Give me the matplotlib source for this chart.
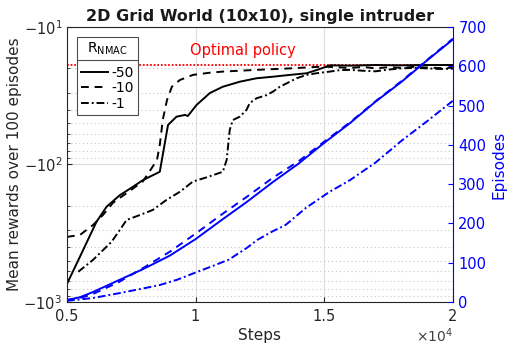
import matplotlib
matplotlib.use("Agg")
import matplotlib.pyplot as plt
from matplotlib.ticker import FixedLocator, FixedFormatter, NullFormatter, LogLocator
from matplotlib.lines import Line2D

# ---------------- data (steps in units of 10^4) ----------------
x_r50 = [0.5, 0.55, 0.615, 0.654, 0.706, 0.75, 0.795, 0.861, 0.893, 0.926, 0.959, 0.97,
         1.004, 1.056, 1.106, 1.172, 1.237, 1.30, 1.367, 1.432, 1.48, 1.522, 1.6, 1.7,
         1.8, 1.9, 2.0]
r_r50 = [740, 471, 261, 203, 167, 148, 130, 113, 51.6, 44.9, 43.6, 44.4,
         36.9, 30.2, 27.2, 25.0, 23.6, 23.0, 22.3, 21.7, 20.3, 19.0, 19.1, 18.9,
         19.0, 18.9, 18.9]

x_r10 = [0.5, 0.55, 0.601, 0.64, 0.679, 0.733, 0.795, 0.85, 0.861, 0.873, 0.889, 0.908,
         0.939, 0.99, 1.056, 1.106, 1.237, 1.367, 1.495, 1.55, 1.6, 1.65, 1.7, 1.75,
         1.8, 1.85, 1.9, 1.95, 2.0]
r_r10 = [336, 326, 276, 233, 190, 161, 133, 93, 72, 47, 34, 27.2,
         24.3, 22.3, 21.5, 21.1, 20.5, 20.0, 19.4, 19.6, 19.9, 19.5, 20.0, 19.6,
         19.8, 19.5, 19.7, 19.9, 19.8]

x_r1 = [0.544, 0.601, 0.674, 0.706, 0.732, 0.784, 0.834, 0.887, 0.939, 0.99, 1.043,
        1.106, 1.121, 1.133, 1.145, 1.172, 1.198, 1.211, 1.237, 1.276, 1.30, 1.328,
        1.354, 1.393, 1.432, 1.47, 1.522, 1.56, 1.6, 1.65, 1.7, 1.75, 1.8, 1.85,
        1.9, 1.95, 2.0]
r_r1 = [603, 495, 364, 299, 253, 233, 214, 181, 158, 133, 124,
        113, 92.7, 56, 47.5, 44.9, 40.1, 35.7, 33.0, 31.3, 29.6, 27.2,
        25.7, 23.6, 22.3, 21.7, 21.1, 20.6, 20.5, 20.8, 21.0, 20.4, 20.0, 19.8,
        20.0, 20.2, 20.1]

x_ep = [0.5, 0.55, 0.6, 0.7, 0.8, 0.9, 1.0, 1.1, 1.2, 1.3, 1.4, 1.5, 1.6, 1.7, 1.8, 1.9, 2.0]
ep_r50 = [5, 12, 25, 55, 85, 118, 160, 208, 255, 305, 352, 405, 455, 510, 560, 615, 668]
ep_r10 = [5, 10, 20, 50, 88, 128, 174, 222, 268, 316, 358, 408, 457, 511, 562, 616, 670]

x_ep1 = [0.5, 0.6, 0.7, 0.8, 0.86, 0.93, 1.0, 1.06, 1.13, 1.2, 1.24, 1.3, 1.35, 1.43,
         1.52, 1.6, 1.7, 1.8, 1.9, 2.0]
ep_r1 = [3, 10, 22, 35, 43, 57, 75, 90, 108, 138, 158, 180, 196, 240,
         280, 310, 355, 410, 460, 512]

optimal_reward = 18.75
legend_labels = ["-50", "-10", "-1"]

# ---------------- figure ----------------
fig = plt.figure(figsize=(5.07, 3.47), dpi=100)
ax = fig.add_axes([0.132, 0.1297, 0.761, 0.7925])
ax2 = ax.twinx()

blue = (0, 0, 1)
dark = "#262626"

ax.set_yscale("log")
ax.set_xlim(0.5, 2.0)
ax.set_ylim(1000, 10)

ax.grid(which="major", color="#dcdcdc", lw=0.8)
ax.yaxis.set_minor_locator(LogLocator(base=10, subs=range(2, 10)))
ax.grid(which="minor", axis="y", color="#c8c8c8", lw=0.8, ls=(0, (1, 2.5)))
ax.set_axisbelow(True)

ax.axhline(optimal_reward, color="red", lw=1.3, ls=(0, (1, 1)), zorder=2)
ax.text(1.184, 14.8, "Optimal policy", color="red", fontsize=10.5, ha="center", va="center")

l1, = ax.plot(x_r50, r_r50, color="black", lw=1.4, ls="-")
l2, = ax.plot(x_r10, r_r10, color="black", lw=1.4, ls=(0, (4, 3)))
l3, = ax.plot(x_r1, r_r1, color="black", lw=1.4, ls=(0, (4, 1.5, 1, 1.5)))

ax2.plot(x_ep, ep_r50, color=blue, lw=1.4, ls="-")
ax2.plot(x_ep, ep_r10, color=blue, lw=1.4, ls=(0, (4, 3)))
ax2.plot(x_ep1, ep_r1, color=blue, lw=1.4, ls=(0, (4, 1.5, 1, 1.5)))
ax2.set_ylim(0, 700)
ax2.set_yticks(range(0, 701, 100))

# ticks
ax.set_xticks([0.5, 1.0, 1.5, 2.0])
ax.set_xticklabels(["0.5", "1", "1.5", "2"])
ax.yaxis.set_major_locator(FixedLocator([10, 100, 1000]))
ax.yaxis.set_major_formatter(FixedFormatter([r"$-10^{1}$", r"$-10^{2}$", r"$-10^{3}$"]))
ax.yaxis.set_minor_formatter(NullFormatter())
ax.tick_params(axis="both", which="both", direction="in", labelsize=10.5, colors=dark)
ax.tick_params(axis="x", pad=5)
ax.tick_params(axis="y", which="minor", length=2)
ax2.tick_params(axis="y", direction="in", labelsize=10.5, colors=blue, pad=4)

for s in ["left", "bottom", "top"]:
    ax.spines[s].set_color(dark)
    ax2.spines[s].set_visible(False)
ax.spines["right"].set_visible(False)
ax2.spines["right"].set_color(blue)

ax.set_title("2D Grid World (10x10), single intruder", fontsize=11.5, fontweight="bold",
             color="#1a1a1a", pad=4)
ax.set_xlabel("Steps", fontsize=11, color=dark, labelpad=3)
ax.set_ylabel("Mean rewards over 100 episodes", fontsize=11, color=dark, labelpad=1)
ax2.set_ylabel("Episodes", fontsize=11, color=blue, labelpad=4)

fig.text(0.893, 0.013, r"$\times10^{4}$", ha="right", va="baseline", fontsize=10, color="#404040")

leg = ax.legend([l1, l2, l3], legend_labels, title=r"$\mathregular{R_{NMAC}}$",
                loc="upper left", bbox_to_anchor=(0.026, 0.965), fontsize=10,
                title_fontsize=10, frameon=True, fancybox=False, framealpha=1,
                edgecolor="#4d4d4d", handlelength=1.9, handletextpad=0.3,
                borderpad=0.3, labelspacing=0.12, borderaxespad=0)
leg.get_frame().set_linewidth(0.8)
leg.set_zorder(10)
leg._legend_box.sep = 6

# separator line under legend title
fig.canvas.draw()
r = fig.canvas.get_renderer()
fb = leg.get_frame().get_window_extent(r)
tb = leg.get_title().get_window_extent(r)
ysep = tb.y0 - 3
inv = fig.transFigure.inverted()
(x0f, yf), (x1f, _) = inv.transform([(fb.x0, ysep), (fb.x1, ysep)])
fig.add_artist(Line2D([x0f, x1f], [yf, yf], color="#4d4d4d", lw=0.8, zorder=11))

fig.savefig("out.png", dpi=100)
